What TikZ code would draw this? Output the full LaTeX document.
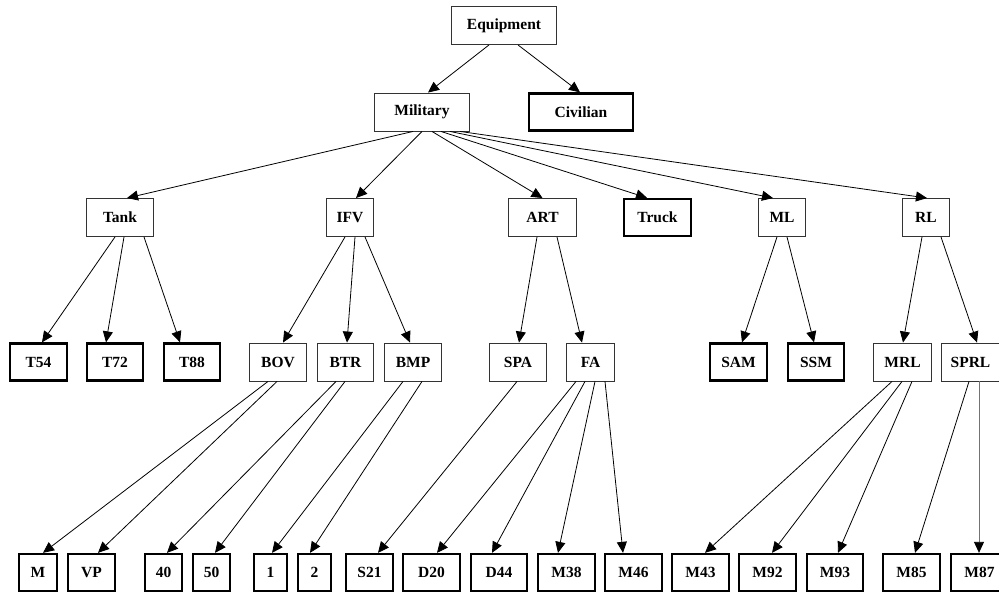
\documentclass[tikz,border=0pt]{standalone}
\usepackage{fontspec}
\setmainfont{Liberation Serif}
\usepackage{tikz}
\usetikzlibrary{arrows.meta}

\begin{document}
\begin{tikzpicture}[x=1pt,y=-1pt]
	\tikzstyle{every node}+=[inner sep=0pt,font=\bfseries\fontsize{15.5}{17}\selectfont]
	\tikzstyle{kind}=[draw=black!80,line width=0.9pt,minimum height=38pt]
	\tikzstyle{leaf}=[draw=black,line width=2.3pt,minimum height=37pt]
	\tikzstyle{arr}=[draw=black,line width=0.8pt,-{Triangle[length=11pt,width=10pt,color=black]}]
	\useasboundingbox (0,0) rectangle (999,594);
	\clip (0,0) rectangle (999,594);
	% top levels
	\node [kind,minimum width=105pt] (equip) at (504,25.5) {Equipment};
	\node [kind,minimum width=95pt] (mil) at (422,112) {Military};
	\node [leaf,minimum width=104pt] (civ) at (581,112) {Civilian};
	% vehicle classes
	\node [kind,minimum width=67pt] (tank) at (120,217.5) {Tank};
	\node [kind,minimum width=47pt] (ifv) at (350,217.5) {IFV};
	\node [kind,minimum width=68pt] (art) at (542.5,217.5) {ART};
	\node [leaf,minimum width=67pt] (truck) at (657.5,217.5) {Truck};
	\node [kind,minimum width=47pt] (ml) at (782,217.5) {ML};
	\node [kind,minimum width=47pt] (rl) at (926,217.5) {RL};
	% sub classes
	\node [leaf,minimum width=57pt] (t54) at (38.5,362) {T54};
	\node [leaf,minimum width=56pt] (t72) at (115,362) {T72};
	\node [leaf,minimum width=56pt] (t88) at (192,362) {T88};
	\node [kind,minimum width=57pt] (bov) at (278,362) {BOV};
	\node [kind,minimum width=56pt] (btr) at (345.5,362) {BTR};
	\node [kind,minimum width=57pt] (bmp) at (413,362) {BMP};
	\node [kind,minimum width=57pt] (spa) at (518,362) {SPA};
	\node [kind,minimum width=48pt] (fa) at (590.5,362) {FA};
	\node [leaf,minimum width=57pt] (sam) at (738.5,362) {SAM};
	\node [leaf,minimum width=56pt] (ssm) at (816,362) {SSM};
	\node [kind,minimum width=58pt] (mrl) at (902.5,362) {MRL};
	\node [kind,minimum width=58pt] (sprl) at (970.5,362) {SPRL};
	% types
	\node [leaf,minimum width=38pt] (m) at (38,572.5) {M};
	\node [leaf,minimum width=47pt] (vp) at (91.5,572.5) {VP};
	\node [leaf,minimum width=37pt] (n40) at (163.5,572.5) {40};
	\node [leaf,minimum width=37pt] (n50) at (211.5,572.5) {50};
	\node [leaf,minimum width=33pt] (n1) at (270.5,572.5) {1};
	\node [leaf,minimum width=33pt] (n2) at (314.5,572.5) {2};
	\node [leaf,minimum width=47pt] (s21) at (369.5,572.5) {S21};
	\node [leaf,minimum width=57pt] (d20) at (431.5,572.5) {D20};
	\node [leaf,minimum width=56pt] (d44) at (499,572.5) {D44};
	\node [leaf,minimum width=57pt] (m38) at (566.5,572.5) {M38};
	\node [leaf,minimum width=57pt] (m46) at (633.5,572.5) {M46};
	\node [leaf,minimum width=57pt] (m43) at (700.5,572.5) {M43};
	\node [leaf,minimum width=57pt] (m92) at (767.5,572.5) {M92};
	\node [leaf,minimum width=56pt] (m93) at (835,572.5) {M93};
	\node [leaf,minimum width=57pt] (m85) at (911.5,572.5) {M85};
	\node [leaf,minimum width=57pt] (m87) at (979.5,572.5) {M87};
	% edges
	\draw [arr] ([xshift=-15pt]equip.south) -- ([xshift=6pt]mil.north);
	\draw [arr] ([xshift=14pt]equip.south) -- ([xshift=-1pt]civ.north);
	\draw [arr] ([xshift=-9pt]mil.south) -- ([xshift=7pt]tank.north);
	\draw [arr] (mil.south) -- ([xshift=6pt]ifv.north);
	\draw [arr] ([xshift=10pt]mil.south) -- (art.north);
	\draw [arr] ([xshift=19pt]mil.south) -- ([xshift=-10.5pt]truck.north);
	\draw [arr] ([xshift=28pt]mil.south) -- ([xshift=-9pt]ml.north);
	\draw [arr] ([xshift=38pt]mil.south) -- ([xshift=1pt]rl.north);
	\draw [arr] ([xshift=-5pt]tank.south) -- ([xshift=3.5pt]t54.north);
	\draw [arr] ([xshift=4pt]tank.south) -- ([xshift=-9pt]t72.north);
	\draw [arr] ([xshift=24pt]tank.south) -- ([xshift=-12pt]t88.north);
	\draw [arr] ([xshift=-5pt]ifv.south) -- ([xshift=5pt]bov.north);
	\draw [arr] ([xshift=5pt]ifv.south) -- ([xshift=1.5pt]btr.north);
	\draw [arr] ([xshift=15pt]ifv.south) -- ([xshift=-3pt]bmp.north);
	\draw [arr] ([xshift=-5.5pt]art.south) -- ([xshift=1pt]spa.north);
	\draw [arr] ([xshift=14.5pt]art.south) -- ([xshift=-8.5pt]fa.north);
	\draw [arr] ([xshift=-5pt]ml.south) -- ([xshift=3.5pt]sam.north);
	\draw [arr] ([xshift=5pt]ml.south) -- ([xshift=-2pt]ssm.north);
	\draw [arr] ([xshift=-4pt]rl.south) -- ([xshift=0.5pt]mrl.north);
	\draw [arr] ([xshift=15pt]rl.south) -- ([xshift=6.5pt]sprl.north);
	\draw [arr] ([xshift=-10pt]bov.south) -- ([xshift=5pt]m.north);
	\draw [arr] ([xshift=-1pt]bov.south) -- ([xshift=6.5pt]vp.north);
	\draw [arr] ([xshift=-9.5pt]btr.south) -- ([xshift=3.5pt]n40.north);
	\draw [arr] ([xshift=-0.5pt]btr.south) -- ([xshift=3.5pt]n50.north);
	\draw [arr] ([xshift=-10pt]bmp.south) -- ([xshift=1.5pt]n1.north);
	\draw [arr] ([xshift=9pt]bmp.south) -- ([xshift=-4.5pt]n2.north);
	\draw [arr] ([xshift=-1pt]spa.south) -- ([xshift=8.5pt]s21.north);
	\draw [arr] ([xshift=-14.5pt]fa.south) -- ([xshift=5.5pt]d20.north);
	\draw [arr] ([xshift=-5.5pt]fa.south) -- ([xshift=-7pt]d44.north);
	\draw [arr] ([xshift=4.5pt]fa.south) -- ([xshift=-8.5pt]m38.north);
	\draw [arr] ([xshift=14.5pt]fa.south) -- ([xshift=-10.5pt]m46.north);
	\draw [arr] ([xshift=-10.5pt]mrl.south) -- ([xshift=4.5pt]m43.north);
	\draw [arr] ([xshift=-0.5pt]mrl.south) -- ([xshift=4.5pt]m92.north);
	\draw [arr] ([xshift=9.5pt]mrl.south) -- ([xshift=3pt]m93.north);
	\draw [arr] ([xshift=-1.5pt]sprl.south) -- ([xshift=3.5pt]m85.north);
	\draw [arr,draw=black!55] ([xshift=8.5pt]sprl.south) -- ([xshift=-0.5pt]m87.north);
\end{tikzpicture}
\end{document}
